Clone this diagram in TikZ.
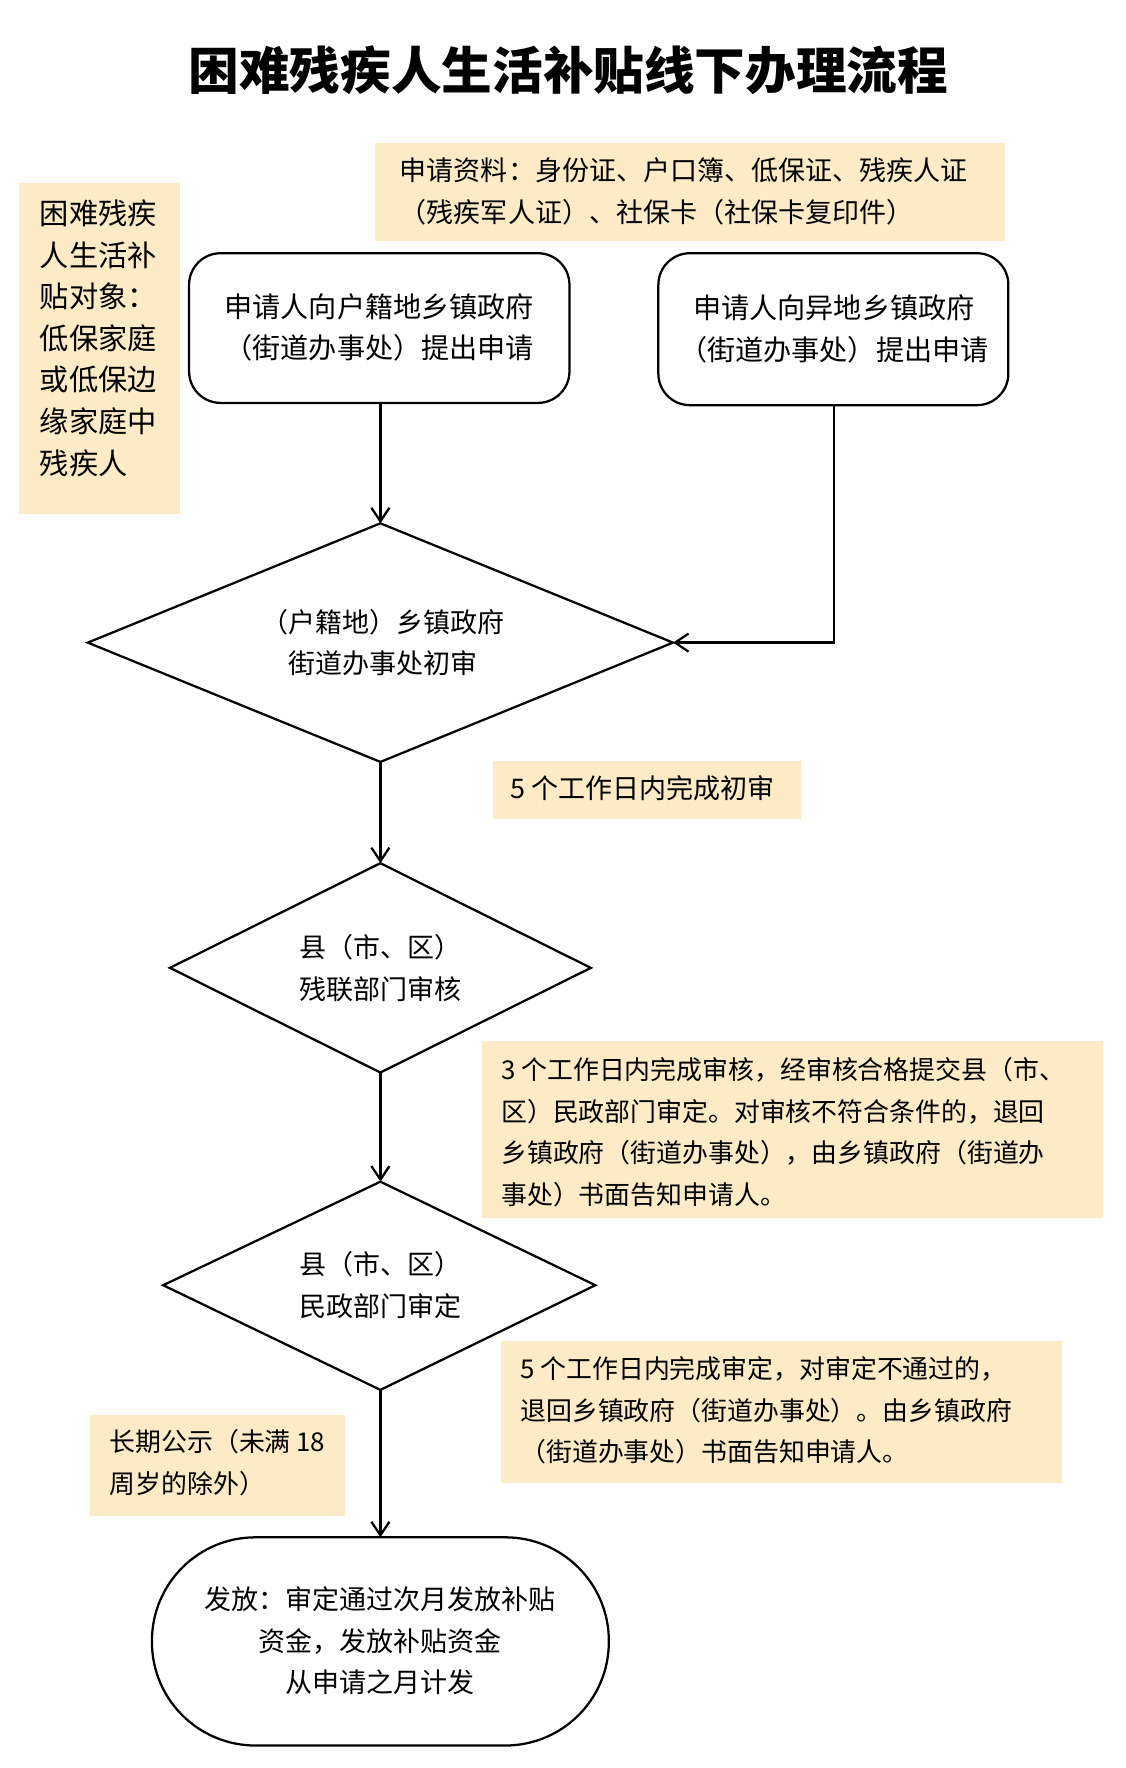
\documentclass[tikz,border=0pt]{standalone}
\usepackage{fontspec}
\setmainfont{Noto Sans CJK SC}
\usetikzlibrary{arrows.meta}
\definecolor{note}{HTML}{FCEBC6}
\begin{document}
\begin{tikzpicture}[x=0.5pt,y=-0.5pt,
  txt/.style={font=\fontsize{12}{18.5}\selectfont,align=center},
  ntxt/.style={font=\fontsize{11.5}{18.5}\selectfont,align=left,anchor=north west,inner sep=0pt},
  ln/.style={line width=1pt},
  arr/.style={ln,-{Straight Barb[length=6pt,width=8pt]}}]
\useasboundingbox (0,0) rectangle (1000,1571);
\fill[white] (0,0) rectangle (1000,1571);
\node[font=\fontsize{22.5}{26}\selectfont\bfseries] (title) at (505,62) {困难残疾人生活补贴线下办理流程};
% notes
\fill[note] (333,127) rectangle (893,214);
\node[ntxt,font=\fontsize{12}{18.5}\selectfont] (n1) at (355,140) {申请资料：身份证、户口簿、低保证、残疾人证\\（残疾军人证）、社保卡（社保卡复印件）};
\fill[note] (17,163) rectangle (160,457);
\node[ntxt,font=\fontsize{13}{18.5}\selectfont] (n2) at (35,177) {困难残疾\\人生活补\\贴对象：\\低保家庭\\或低保边\\缘家庭中\\残疾人};
\fill[note] (438,676) rectangle (712,728);
\node[ntxt,font=\fontsize{12}{18.5}\selectfont] (n3) at (453,689) {5 个工作日内完成初审};
\fill[note] (428,925) rectangle (980,1082);
\node[ntxt] (n4) at (445,939) {3 个工作日内完成审核，经审核合格提交县（市、\\区）民政部门审定。对审核不符合条件的，退回\\乡镇政府（街道办事处），由乡镇政府（街道办\\事处）书面告知申请人。};
\fill[note] (445,1192) rectangle (944,1318);
\node[ntxt] (n5) at (462,1205) {5 个工作日内完成审定，对审定不通过的，\\退回乡镇政府（街道办事处）。由乡镇政府\\（街道办事处）书面告知申请人。};
\fill[note] (80,1257) rectangle (307,1347);
\node[ntxt] (n6) at (97,1270) {长期公示（未满 18\\周岁的除外）};
% boxes
\draw[ln,rounded corners=14pt] (168,225) rectangle (506,358);
\node[txt,font=\fontsize{12.5}{18.5}\selectfont] (b1) at (337,291) {申请人向户籍地乡镇政府\\（街道办事处）提出申请};
\coordinate (b1s) at (338,358);
\draw[ln,rounded corners=14pt] (585,225) rectangle (896,360);
\node[txt,font=\fontsize{12.5}{18.5}\selectfont] (b2) at (741,292) {申请人向异地乡镇政府\\（街道办事处）提出申请};
\coordinate (b2s) at (741,360);
% diamonds
\draw[ln] (338,465) coordinate (d1t) -- (598,571) coordinate (d1r) -- (338,677) coordinate (d1b) -- (78,571) -- cycle;
\node[txt] (d1) at (340,571) {（户籍地）乡镇政府\\街道办事处初审};
\draw[ln] (338,767) coordinate (d2t) -- (525,860) -- (338,953) coordinate (d2b) -- (151,860) -- cycle;
\node[txt] (d2) at (338,860) {县（市、区）\\残联部门审核};
\draw[ln] (338,1050) coordinate (d3t) -- (529,1142) -- (338,1235) coordinate (d3b) -- (145,1142) -- cycle;
\node[txt] (d3) at (338,1142) {县（市、区）\\民政部门审定};
% final
\draw[ln,rounded corners=46pt] (135,1366) rectangle (541,1551);
\coordinate (ft) at (338,1366);
\node[txt] (f) at (338,1458) {发放：审定通过次月发放补贴\\资金，发放补贴资金\\从申请之月计发};
% arrows
\draw[arr] (b1s) -- (d1t);
\draw[arr] (b2s) |- (d1r);
\draw[arr] (d1b) -- (d2t);
\draw[arr] (d2b) -- (d3t);
\draw[arr] (d3b) -- (ft);
\end{tikzpicture}
\end{document}
